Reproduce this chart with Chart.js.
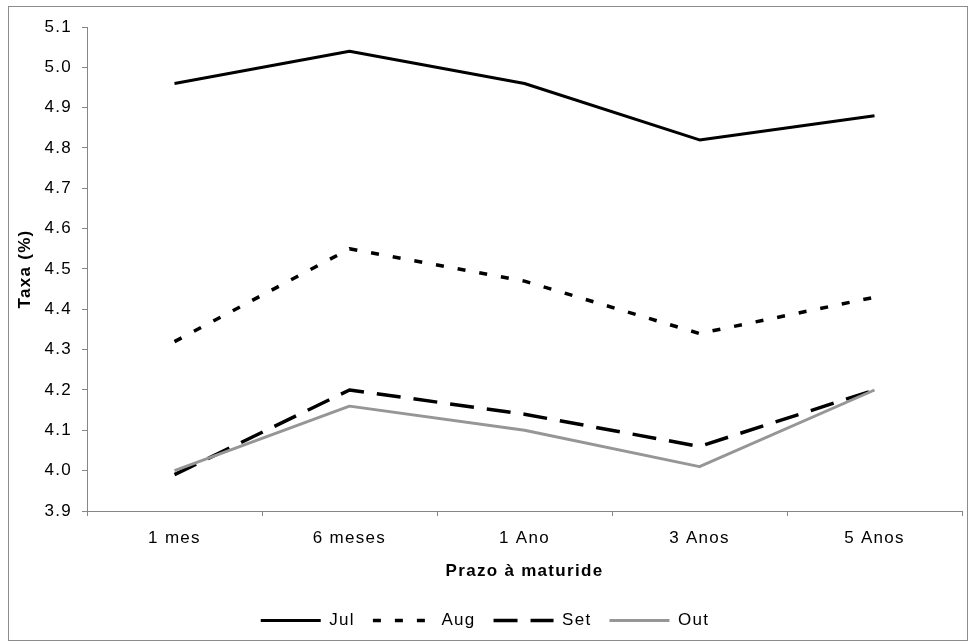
<!DOCTYPE html>
<html>
<head>
<meta charset="utf-8">
<script src="https://cdn.jsdelivr.net/npm/chart.js@4.4.1/dist/chart.umd.min.js"></script>
<style>
  html, body { margin: 0; padding: 0; background: #fff; }
  canvas { display: block; }
</style>
</head>
<body>
<canvas id="chart" width="970" height="643"></canvas>
<script>
// values
const categories = ['1 mes', '6 meses', '1 Ano', '3 Anos', '5 Anos'];
const julValues = [4.96, 5.04, 4.96, 4.82, 4.88];
const augValues = [4.32, 4.55, 4.47, 4.34, 4.43];
const setValues = [3.99, 4.20, 4.14, 4.06, 4.20];
const outValues = [4.00, 4.16, 4.10, 4.01, 4.20];
const yTicks = [3.9, 4.0, 4.1, 4.2, 4.3, 4.4, 4.5, 4.6, 4.7, 4.8, 4.9, 5.0, 5.1];
const yTickLabels = ['3.9', '4.0', '4.1', '4.2', '4.3', '4.4', '4.5', '4.6', '4.7', '4.8', '4.9', '5.0', '5.1'];

const axisGray = '#868686';
const font = { family: '"Liberation Sans", Arial, sans-serif', size: 17 };
const boldFont = { family: '"Liberation Sans", Arial, sans-serif', size: 17, weight: 'bold' };

// wider text spacing, like the original rendering
const spacing = {
  id: 'spacing',
  beforeUpdate(chart) { chart.ctx.letterSpacing = '1.3px'; },
  beforeDraw(chart) { chart.ctx.letterSpacing = '1.3px'; }
};

// outer frame of the chart
const frame = {
  id: 'frame',
  beforeDraw(chart) {
    const ctx = chart.ctx;
    ctx.save();
    ctx.strokeStyle = '#8c8c8c';
    ctx.lineWidth = 1;
    ctx.strokeRect(8.5, 6.5, 959, 634);
    ctx.restore();
  }
};

const lineDefaults = {
  pointRadius: 0,
  pointHoverRadius: 0,
  tension: 0,
  fill: false,
  borderJoinStyle: 'round'
};

new Chart(document.getElementById('chart'), {
  type: 'line',
  data: {
    labels: categories,
    datasets: [{
      ...lineDefaults,
      label: 'Jul',
      data: julValues,
      borderColor: '#000000',
      borderWidth: 3,
      order: 4
    }, {
      ...lineDefaults,
      label: 'Aug',
      data: augValues,
      borderColor: '#000000',
      borderWidth: 3.5,
      borderDash: [8, 14],
      order: 3
    }, {
      ...lineDefaults,
      label: 'Set',
      data: setValues,
      borderColor: '#000000',
      borderWidth: 3.5,
      borderDash: [24, 13],
      order: 2
    }, {
      ...lineDefaults,
      label: 'Out',
      data: outValues,
      borderColor: '#969696',
      borderWidth: 3,
      order: 1
    }]
  },
  options: {
    responsive: false,
    animation: false,
    layout: {
      padding: { left: 8, right: 8, top: 27, bottom: 4 }
    },
    plugins: {
      title: { display: false },
      tooltip: { enabled: false },
      legend: {
        display: true,
        position: 'bottom',
        labels: {
          usePointStyle: true,
          pointStyle: 'line',
          pointStyleWidth: 60,
          padding: 18,
          color: '#000',
          font: font,
          sort: (a, b) => a.datasetIndex - b.datasetIndex,
          generateLabels(chart) {
            const items = Chart.defaults.plugins.legend.labels.generateLabels(chart);
            items.forEach(item => {
              const ds = chart.data.datasets[item.datasetIndex];
              item.lineDash = ds.borderDash || [];
              item.lineWidth = ds.borderWidth;
              item.strokeStyle = ds.borderColor;
              item.pointStyle = 'line';
            });
            return items;
          }
        }
      }
    },
    scales: {
      x: {
        offset: true,
        grid: {
          offset: true,
          drawOnChartArea: false,
          drawTicks: true,
          tickLength: 5,
          color: axisGray
        },
        border: { color: axisGray, width: 1 },
        ticks: { color: '#000', font: font, padding: 12, maxRotation: 0 },
        title: {
          display: true,
          text: 'Prazo à maturide',
          color: '#000',
          font: boldFont,
          padding: { top: 0, bottom: 12 }
        },
        afterFit(scale) { scale.height = 83; }
      },
      y: {
        min: 3.9,
        max: 5.1,
        afterBuildTicks(scale) {
          scale.ticks = yTicks.map(v => ({ value: v }));
        },
        grid: {
          drawOnChartArea: false,
          drawTicks: true,
          tickLength: 5,
          color: axisGray
        },
        border: { color: axisGray, width: 1 },
        ticks: {
          color: '#000',
          font: font,
          padding: 10,
          callback: (value, index) => yTickLabels[index]
        },
        title: {
          display: true,
          text: 'Taxa (%)',
          color: '#000',
          font: boldFont,
          padding: { top: 7, bottom: 0 }
        },
        afterFit(scale) { scale.width = 79; }
      }
    }
  },
  plugins: [spacing, frame]
});
</script>
</body>
</html>
